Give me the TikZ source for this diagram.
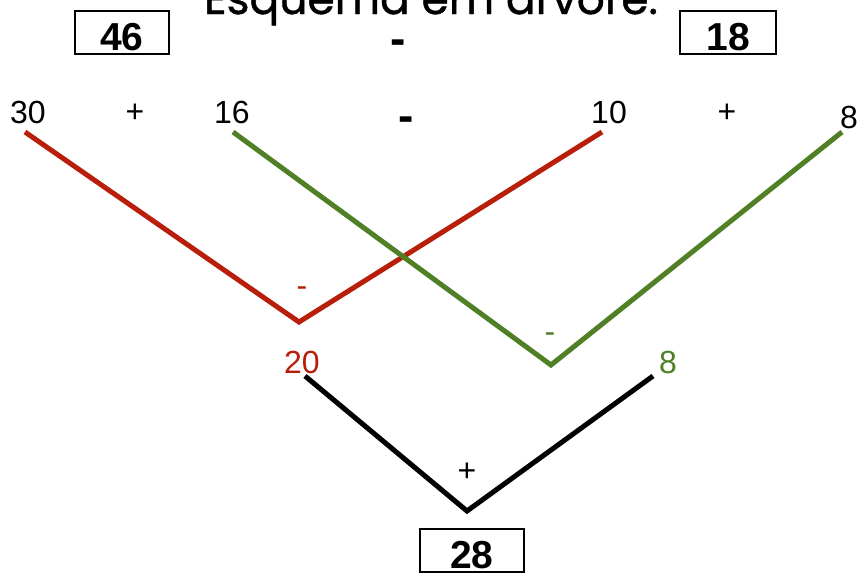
\documentclass[tikz,border=0pt]{standalone}
\usepackage{fontspec}
\setmainfont{Liberation Sans}
\newfontfamily\titlefont[FakeBold=1]{Poppins}
\usepackage{tikz}
\usetikzlibrary{positioning}
\definecolor{redbranch}{RGB}{184,30,10}
\definecolor{greenbranch}{RGB}{80,128,38}
\tikzset{
  num/.style={font=\fontsize{32}{32}\selectfont, inner sep=0pt},
  op/.style={font=\fontsize{32}{32}\selectfont, inner sep=0pt},
  bigop/.style={font=\fontsize{46}{46}\selectfont\bfseries, inner sep=0pt},
  result/.style={draw, line width=1.6pt, font=\fontsize{39}{39}\selectfont\bfseries,
    text height=37pt, text depth=0pt, inner ysep=3pt, inner xsep=0pt},
  branch/.style={line width=5pt},
}

\begin{document}
\begin{tikzpicture}[x=1pt, y=-1pt]
\useasboundingbox (0,0) rectangle (859,573);

% --- Title (runs off the top edge) ---
\node[font=\titlefont\fontsize{44}{44}\selectfont, anchor=base] (title) at (431,14) {Esquema em árvore:};

% --- Partial results and operation ---
\node[result, minimum width=94pt, anchor=north] (r46) at (122,10) {46};
\node[result, minimum width=96pt, anchor=north] (r18) at (728,10) {18};
\node[bigop] (topminus) at (398,47) {-};

% --- The expression ---
\foreach \name/\x/\y/\txt in {
  n30/28/112/30, p1/135/113/+, n16/232/112/16,
  n10/609/112/10, p2/727/113/+, n8/849/117/8
}{
  \node[num] (\name) at (\x,\y) {\txt};
}
\node[bigop] (midminus) at (406,124) {-};

% --- Branch end points ---
\coordinate (a1) at (25,132);
\coordinate (a2) at (602,132);
\coordinate (av) at (299,322);
\coordinate (b1) at (233,132);
\coordinate (b2) at (842,132);
\coordinate (bv) at (551,365);

\draw[branch, redbranch] (a1) -- (av) -- (a2);
\draw[branch, greenbranch] (b1) -- (bv) -- (b2);

\node[op, redbranch] (aop) at (302,292) {-};
\node[op, greenbranch] (bop) at (550,338) {-};

% --- Second level ---
\node[num, redbranch] (n20) at (302,362) {20};
\node[num, greenbranch] (n8b) at (668,362) {8};

\coordinate (c1) at (305,376);
\coordinate (c2) at (653,376);
\coordinate (cv) at (467,511);
\draw[branch] (c1) -- (cv) -- (c2);

\node[op] (cop) at (467,472) {+};

% --- Final result ---
\node[result, minimum width=104pt, anchor=north] (r28) at (472,528) {28};

\end{tikzpicture}
\end{document}
